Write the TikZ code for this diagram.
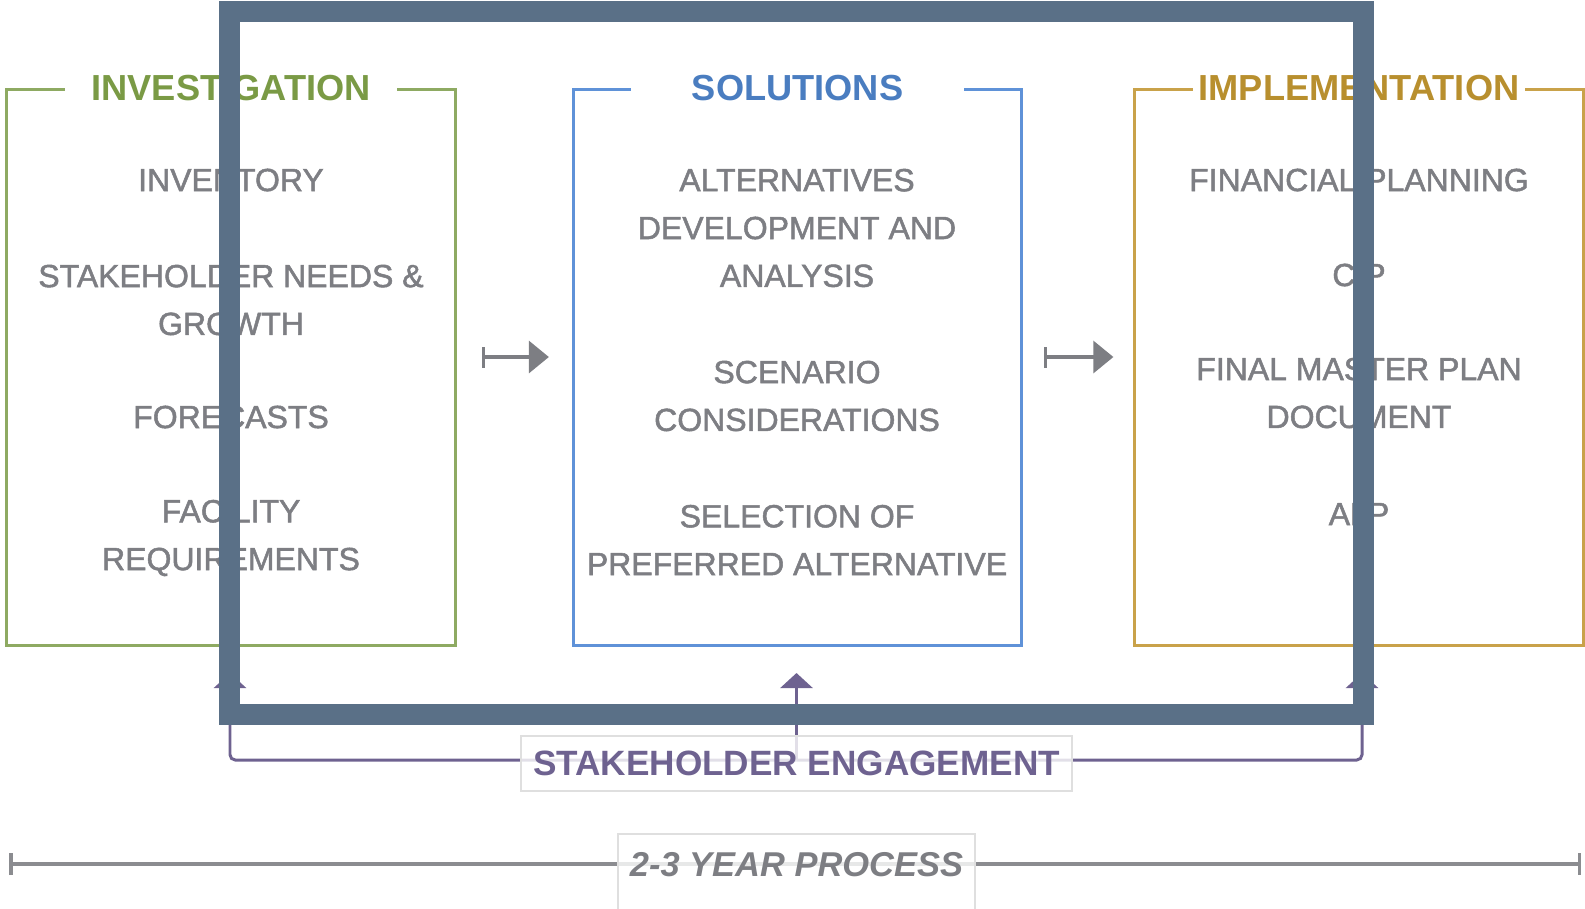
\documentclass[tikz,border=0pt]{standalone}
\usepackage{fontspec}
\setmainfont{Liberation Sans}
\newfontfamily\itemfont[FakeBold=1.6]{Liberation Sans}
\usepackage{xcolor}
\usetikzlibrary{arrows.meta}
\usetikzlibrary{backgrounds}
\usetikzlibrary{positioning}

\definecolor{invgreen}{HTML}{7A9A45}
\definecolor{invline}{HTML}{8EAA62}
\definecolor{solblue}{HTML}{4A7DC0}
\definecolor{solline}{HTML}{5F92D8}
\definecolor{impgold}{HTML}{B88F2E}
\definecolor{impline}{HTML}{C9A24A}
\definecolor{engpurple}{HTML}{6E6290}
\definecolor{itemgray}{HTML}{7D7E83}
\definecolor{linegray}{HTML}{8B8C90}
\definecolor{framecol}{HTML}{5A7087}

\tikzset{
  phase/.style={draw=#1, line width=0.85pt, minimum width=4.48cm, minimum height=5.55cm, inner sep=0pt},
  phasetitle/.style={fill=white, text=#1, font=\fontsize{10.3}{12}\selectfont\bfseries, minimum width=3.32cm, inner sep=1pt},
  item/.style={text=itemgray, align=center, font=\itemfont\fontsize{9.1}{13.6}\selectfont},
  flow/.style={draw=itemgray, line width=0.9pt, {Bar[width=2.1mm]}-{Triangle[length=2mm,width=3.2mm]}},
  engage/.style={draw=engpurple, line width=0.85pt, rounded corners=1.5pt},
  tag/.style={draw=gray!25, fill=white, fill opacity=0.8, text opacity=1, line width=0.5pt},
  timeline/.style={draw=linegray, line width=1pt, {Bar[width=2.2mm]}-{Bar[width=2.2mm]}},
  frame/.style={draw=framecol, line width=0.21cm}
}

\begin{document}
\begin{tikzpicture}[x=0.01cm, y=-0.01cm]
  \useasboundingbox (0,0) rectangle (1585,908);

  % the three phases
  \node[phase=invline] (inv) at (231,367.5) {};
  \node[phase=solline] (sol) at (797.5,367.5) {};
  \node[phase=impline] (imp) at (1359,367.5) {};

  \node[phasetitle=invgreen] (invt) at (inv.north) {INVESTIGATION};
  \node[phasetitle=solblue] (solt) at (sol.north) {SOLUTIONS};
  \node[phasetitle=impgold] (impt) at (imp.north) {IMPLEMENTATION};

  % items
  \node[item] (inv1) at (231,180) {INVENTORY};
  \node[item] (inv2) at (231,300) {STAKEHOLDER NEEDS \&\\GROWTH};
  \node[item] (inv3) at (231,417) {FORECASTS};
  \node[item] (inv4) at (231,538) {FACILITY\\REQUIREMENTS};

  \node[item] (sol1) at (797,228) {ALTERNATIVES\\DEVELOPMENT AND\\ANALYSIS};
  \node[item] (sol2) at (797,396) {SCENARIO\\CONSIDERATIONS};
  \node[item] (sol3) at (797,540) {SELECTION OF\\PREFERRED ALTERNATIVE};

  \node[item] (imp1) at (1359,180) {FINANCIAL PLANNING};
  \node[item] (imp2) at (1359,275) {CIP};
  \node[item] (imp3) at (1359,393) {FINAL MASTER PLAN\\DOCUMENT};
  \node[item] (imp4) at (1359,514) {ALP};

  % flow between phases
  \draw[flow] ([xshift=0.25cm,yshift=0.105cm]inv.east) -- ([xshift=-0.23cm,yshift=0.105cm]sol.west);
  \draw[flow] ([xshift=0.21cm,yshift=0.105cm]sol.east) -- ([xshift=-0.2cm,yshift=0.105cm]imp.west);

  % stakeholder engagement
  \node[tag, minimum width=5.45cm, minimum height=0.55cm, text=engpurple, font=\fontsize{10}{12}\selectfont\bfseries] (eng) at (796.5,763.5) {STAKEHOLDER ENGAGEMENT};
  \coordinate (engc) at (796.5,760);
  \coordinate (tipL) at (230,673);
  \coordinate (tipM) at (796.5,673);
  \coordinate (tipR) at (1362,673);
  \begin{scope}[on background layer]
    \draw[engage, -{Triangle[length=1.5mm,width=3.2mm]}] (engc) -| (tipL);
    \draw[engage, -{Triangle[length=1.5mm,width=3.2mm]}] (engc) -- (tipM);
    \draw[engage, -{Triangle[length=1.5mm,width=3.2mm]}] (engc) -| (tipR);
  \end{scope}

  % time line
  \node[tag, anchor=base, minimum width=3.57cm, text height=8.6pt, text depth=7pt, text=itemgray, font=\fontsize{9.8}{12}\selectfont\bfseries\itshape] (years) at (796.5,876) {2-3 YEAR PROCESS};
  \coordinate (t0) at (9,864);
  \coordinate (t1) at (1581,864);
  \begin{scope}[on background layer]
    \draw[timeline] (t0) -- (t1);
  \end{scope}

  % frame on top
  \draw[frame] (229.5,11) rectangle (1363.5,714.5);
\end{tikzpicture}
\end{document}
